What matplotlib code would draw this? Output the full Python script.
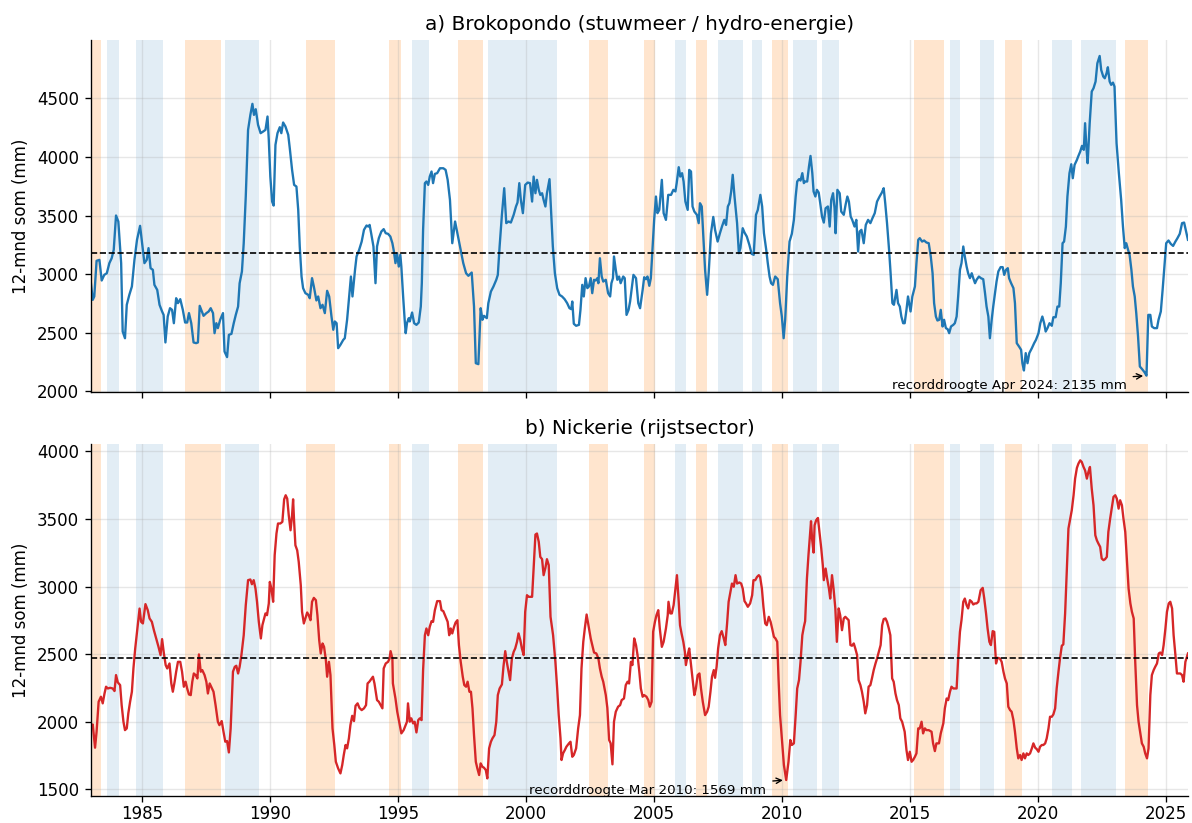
import matplotlib
matplotlib.use("Agg")
import matplotlib.pyplot as plt

# ---- ENSO-episodes (decimale jaren) ----
el_nino = [(1983.00, 1983.40), (1986.67, 1988.07), (1991.40, 1992.52), (1994.65, 1995.13),
           (1997.33, 1998.33), (2002.45, 2003.20), (2004.60, 2005.05), (2006.65, 2007.09),
           (2009.60, 2010.24), (2015.16, 2016.32), (2018.73, 2019.38), (2023.41, 2024.31)]
la_nina = [(1983.64, 1984.08), (1984.75, 1985.82), (1988.23, 1989.56), (1995.56, 1996.22),
           (1998.50, 2001.23), (2005.82, 2006.24), (2007.50, 2008.47), (2008.84, 2009.24),
           (2010.42, 2011.38), (2011.58, 2012.24), (2016.58, 2016.98), (2017.75, 2018.31),
           (2020.56, 2021.33), (2021.68, 2023.05)]

# ---- a) Brokopondo: 12-maands som (mm) ----
bro_t = [
    1983.00, 1983.07, 1983.13, 1983.22, 1983.33, 1983.42, 1983.52, 1983.62, 1983.72, 1983.81,
    1983.89, 1983.98, 1984.07, 1984.18, 1984.24, 1984.33, 1984.40, 1984.50, 1984.60, 1984.70,
    1984.80, 1984.92, 1985.00, 1985.09, 1985.18, 1985.25, 1985.33, 1985.42, 1985.48, 1985.59,
    1985.68, 1985.78, 1985.84, 1985.91, 1986.00, 1986.09, 1986.17, 1986.24, 1986.33, 1986.40,
    1986.49, 1986.59, 1986.68, 1986.76, 1986.83, 1986.92, 1987.01, 1987.11, 1987.18, 1987.25,
    1987.31, 1987.40, 1987.51, 1987.60, 1987.68, 1987.77, 1987.83, 1987.90, 1987.96, 1988.05,
    1988.16, 1988.22, 1988.32, 1988.39, 1988.49, 1988.58, 1988.66, 1988.75, 1988.81, 1988.90,
    1988.97, 1989.05, 1989.14, 1989.23, 1989.31, 1989.37, 1989.44, 1989.53, 1989.63, 1989.73,
    1989.82, 1989.90, 1989.95, 1990.01, 1990.08, 1990.14, 1990.21, 1990.29, 1990.38, 1990.44,
    1990.51, 1990.60, 1990.71, 1990.77, 1990.86, 1990.94, 1991.03, 1991.10, 1991.16, 1991.23,
    1991.29, 1991.38, 1991.49, 1991.55, 1991.64, 1991.71, 1991.81, 1991.88, 1991.97, 1992.05,
    1992.14, 1992.23, 1992.31, 1992.40, 1992.47, 1992.53, 1992.60, 1992.66, 1992.75, 1992.86,
    1992.92, 1993.01, 1993.09, 1993.16, 1993.22, 1993.32, 1993.38, 1993.48, 1993.58, 1993.67,
    1993.77, 1993.84, 1993.89, 1993.95, 1994.04, 1994.12, 1994.18, 1994.25, 1994.35, 1994.44,
    1994.52, 1994.61, 1994.70, 1994.78, 1994.84, 1994.90, 1994.96, 1995.03, 1995.09, 1995.13,
    1995.20, 1995.26, 1995.30, 1995.35, 1995.42, 1995.46, 1995.55, 1995.63, 1995.72, 1995.81,
    1995.89, 1995.93, 1995.98, 1996.05, 1996.11, 1996.18, 1996.24, 1996.31, 1996.37, 1996.44,
    1996.53, 1996.64, 1996.77, 1996.86, 1996.94, 1997.03, 1997.12, 1997.23, 1997.32, 1997.42,
    1997.55, 1997.66, 1997.75, 1997.88, 1997.97, 1998.04, 1998.14, 1998.23, 1998.30, 1998.36,
    1998.47, 1998.53, 1998.63, 1998.73, 1998.84, 1998.90, 1998.97, 1999.06, 1999.15, 1999.23,
    1999.32, 1999.41, 1999.52, 1999.61, 1999.67, 1999.74, 1999.80, 1999.88, 1999.97, 2000.07,
    2000.16, 2000.24, 2000.30, 2000.37, 2000.43, 2000.50, 2000.56, 2000.63, 2000.69, 2000.76,
    2000.82, 2000.92, 2000.98, 2001.05, 2001.13, 2001.22, 2001.31, 2001.41, 2001.51, 2001.61,
    2001.70, 2001.77, 2001.81, 2001.87, 2001.96, 2002.07, 2002.13, 2002.20, 2002.26, 2002.33,
    2002.40, 2002.46, 2002.53, 2002.59, 2002.66, 2002.72, 2002.79, 2002.83, 2002.89, 2002.96,
    2003.02, 2003.12, 2003.21, 2003.29, 2003.34, 2003.40, 2003.44, 2003.51, 2003.57, 2003.64,
    2003.70, 2003.80, 2003.86, 2003.93, 2004.01, 2004.07, 2004.20, 2004.30, 2004.39, 2004.46,
    2004.56, 2004.62, 2004.69, 2004.75, 2004.82, 2004.88, 2004.95, 2005.01, 2005.08, 2005.14,
    2005.21, 2005.31, 2005.38, 2005.47, 2005.56, 2005.67, 2005.76, 2005.84, 2005.89, 2005.97,
    2006.03, 2006.10, 2006.16, 2006.23, 2006.32, 2006.38, 2006.45, 2006.51, 2006.58, 2006.68,
    2006.75, 2006.80, 2006.87, 2006.95, 2007.00, 2007.08, 2007.14, 2007.23, 2007.32, 2007.39,
    2007.49, 2007.58, 2007.66, 2007.75, 2007.82, 2007.89, 2007.95, 2008.02, 2008.08, 2008.15,
    2008.25, 2008.32, 2008.38, 2008.47, 2008.54, 2008.63, 2008.73, 2008.82, 2008.90, 2008.99,
    2009.06, 2009.16, 2009.23, 2009.30, 2009.39, 2009.45, 2009.52, 2009.58, 2009.65, 2009.74,
    2009.84, 2009.93, 2010.00, 2010.07, 2010.13, 2010.21, 2010.30, 2010.39, 2010.47, 2010.54,
    2010.60, 2010.67, 2010.73, 2010.80, 2010.86, 2010.91, 2010.99, 2011.06, 2011.12, 2011.19,
    2011.24, 2011.31, 2011.37, 2011.44, 2011.50, 2011.57, 2011.64, 2011.71, 2011.80, 2011.87,
    2011.93, 2012.00, 2012.06, 2012.10, 2012.17, 2012.26, 2012.32, 2012.42, 2012.49, 2012.56,
    2012.62, 2012.69, 2012.75, 2012.84, 2012.91, 2012.98, 2013.04, 2013.11, 2013.20, 2013.28,
    2013.37, 2013.46, 2013.54, 2013.63, 2013.72, 2013.82, 2013.91, 2013.98, 2014.04, 2014.11,
    2014.19, 2014.25, 2014.32, 2014.38, 2014.48, 2014.54, 2014.61, 2014.67, 2014.74, 2014.80,
    2014.87, 2014.93, 2015.03, 2015.10, 2015.20, 2015.26, 2015.33, 2015.39, 2015.48, 2015.56,
    2015.65, 2015.74, 2015.82, 2015.89, 2015.95, 2016.02, 2016.08, 2016.15, 2016.21, 2016.28,
    2016.34, 2016.41, 2016.48, 2016.54, 2016.61, 2016.70, 2016.76, 2016.83, 2016.89, 2016.96,
    2017.02, 2017.09, 2017.15, 2017.22, 2017.28, 2017.35, 2017.42, 2017.48, 2017.55, 2017.61,
    2017.70, 2017.78, 2017.87, 2017.94, 2018.00, 2018.07, 2018.13, 2018.20, 2018.26, 2018.33,
    2018.39, 2018.46, 2018.55, 2018.63, 2018.69, 2018.76, 2018.83, 2018.88, 2018.96, 2019.05,
    2019.11, 2019.18, 2019.27, 2019.35, 2019.40, 2019.46, 2019.53, 2019.60, 2019.67, 2019.77,
    2019.86, 2019.93, 2020.03, 2020.10, 2020.18, 2020.25, 2020.31, 2020.38, 2020.46, 2020.55,
    2020.61, 2020.70, 2020.77, 2020.84, 2020.90, 2020.97, 2021.03, 2021.10, 2021.16, 2021.24,
    2021.31, 2021.37, 2021.44, 2021.53, 2021.58, 2021.66, 2021.73, 2021.80, 2021.85, 2021.90,
    2021.95, 2022.03, 2022.11, 2022.18, 2022.26, 2022.33, 2022.42, 2022.48, 2022.56, 2022.62,
    2022.69, 2022.74, 2022.81, 2022.87, 2022.94, 2023.00, 2023.08, 2023.17, 2023.26, 2023.33,
    2023.40, 2023.46, 2023.53, 2023.59, 2023.66, 2023.72, 2023.79, 2023.85, 2023.92, 2023.99,
    2024.08, 2024.17, 2024.25, 2024.32, 2024.40, 2024.46, 2024.55, 2024.66, 2024.72, 2024.81,
    2024.88, 2024.95, 2025.02, 2025.11, 2025.20, 2025.29, 2025.38, 2025.46, 2025.55, 2025.64,
    2025.72, 2025.87,
]
bro_mm = [
    2923, 2781, 2810, 3114, 3122, 2946, 2994, 3008, 3094, 3136,
    3207, 3500, 3449, 3094, 2511, 2454, 2739, 2824, 2895, 3122,
    3293, 3412, 3264, 3094, 3122, 3222, 3051, 3037, 2909, 2866,
    2739, 2682, 2653, 2418, 2639, 2710, 2696, 2582, 2795, 2753,
    2787, 2696, 2588, 2588, 2668, 2582, 2418, 2412, 2418, 2730,
    2696, 2645, 2668, 2682, 2710, 2668, 2497, 2582, 2540, 2611,
    2668, 2341, 2293, 2483, 2491, 2582, 2653, 2724, 2923, 3023,
    3264, 3662, 4230, 4358, 4452, 4358, 4406, 4273, 4202, 4216,
    4230, 4344, 4145, 3832, 3619, 3585, 4102, 4202, 4253, 4202,
    4293, 4259, 4188, 4074, 3889, 3761, 3747, 3548, 3236, 2980,
    2881, 2838, 2824, 2795, 2966, 2895, 2776, 2810, 2710, 2739,
    2668, 2858, 2810, 2639, 2526, 2597, 2582, 2369, 2398, 2440,
    2454, 2611, 2810, 2980, 2810, 3037, 3151, 3207, 3278, 3378,
    3415, 3406, 3420, 3349, 3236, 2923, 3236, 3307, 3364, 3384,
    3349, 3344, 3321, 3264, 3193, 3094, 3179, 3065, 3165, 3065,
    2810, 2611, 2497, 2582, 2625, 2597, 2673, 2582, 2568, 2588,
    2724, 2923, 3378, 3776, 3790, 3761, 3832, 3875, 3776, 3855,
    3861, 3903, 3903, 3889, 3804, 3633, 3264, 3449, 3349, 3236,
    3094, 3008, 2986, 3014, 2724, 2241, 2233, 2710, 2611, 2645,
    2625, 2753, 2852, 2895, 2952, 2994, 3236, 3506, 3733, 3435,
    3449, 3440, 3506, 3577, 3611, 3776, 3633, 3520, 3761, 3781,
    3776, 3619, 3832, 3690, 3804, 3719, 3676, 3690, 3633, 3577,
    3690, 3810, 3548, 3236, 3008, 2881, 2824, 2810, 2787, 2753,
    2710, 2702, 2767, 2577, 2560, 2568, 2696, 2909, 2810, 2966,
    2881, 2895, 2966, 2838, 2952, 2946, 2966, 2923, 3136, 2980,
    2937, 2952, 2838, 2810, 2923, 2966, 3151, 3037, 2952, 2980,
    2923, 2980, 2966, 2653, 2696, 2767, 2994, 2966, 2753, 2710,
    2866, 2974, 2957, 2980, 2901, 2966, 3236, 3463, 3662, 3520,
    3548, 3804, 3520, 3463, 3676, 3676, 3719, 3705, 3776, 3912,
    3832, 3861, 3790, 3619, 3548, 3889, 3875, 3577, 3534, 3506,
    3435, 3605, 3577, 3236, 3037, 2824, 3008, 3349, 3488, 3378,
    3278, 3349, 3406, 3463, 3420, 3577, 3605, 3705, 3847, 3662,
    3435, 3179, 3222, 3392, 3355, 3321, 3250, 3173, 3165, 3506,
    3548, 3676, 3577, 3349, 3207, 3094, 2980, 2923, 2909, 2980,
    2957, 2753, 2639, 2454, 2611, 2980, 3278, 3344, 3463, 3662,
    3790, 3810, 3798, 3861, 3776, 3790, 3790, 3918, 4008, 3861,
    3705, 3662, 3719, 3696, 3605, 3491, 3440, 3562, 3577, 3406,
    3633, 3690, 3562, 3349, 3719, 3690, 3534, 3506, 3591, 3662,
    3619, 3491, 3463, 3406, 3463, 3193, 3364, 3378, 3264, 3420,
    3463, 3435, 3477, 3520, 3619, 3662, 3696, 3733, 3605, 3435,
    3207, 3008, 2753, 2739, 2866, 2753, 2724, 2639, 2582, 2582,
    2696, 2810, 2682, 2810, 2895, 3094, 3293, 3307, 3278, 3287,
    3270, 3264, 3151, 3008, 2753, 2639, 2605, 2611, 2696, 2554,
    2611, 2540, 2531, 2497, 2554, 2568, 2582, 2639, 2810, 3037,
    3094, 3236, 3151, 3065, 3008, 2966, 3008, 2966, 2923, 2952,
    2980, 2966, 2957, 2838, 2724, 2639, 2454, 2611, 2724, 2838,
    2937, 3023, 3060, 3060, 2994, 3037, 3051, 2966, 2923, 2881,
    2753, 2412, 2383, 2355, 2241, 2179, 2327, 2241, 2327, 2369,
    2412, 2440, 2497, 2582, 2639, 2582, 2511, 2540, 2582, 2560,
    2633, 2633, 2724, 2724, 2923, 3264, 3278, 3406, 3662, 3861,
    3937, 3818, 3932, 3974, 4003, 4045, 4094, 4060, 4287, 4088,
    3946, 4287, 4557, 4585, 4642, 4798, 4860, 4741, 4685, 4670,
    4713, 4764, 4642, 4614, 4633, 4599, 4116, 3861, 3633, 3406,
    3222, 3264, 3207, 3165, 3037, 2895, 2810, 2668, 2469, 2213,
    2190, 2165, 2135, 2653, 2653, 2554, 2540, 2540, 2611, 2682,
    2866, 3065, 3264, 3287, 3258, 3241, 3278, 3307, 3344, 3435,
    3440, 3293,
]

# ---- b) Nickerie: 12-maands som (mm) ----
nic_t = [
    1983.00, 1983.07, 1983.16, 1983.22, 1983.30, 1983.39, 1983.46, 1983.53, 1983.59, 1983.66,
    1983.75, 1983.85, 1983.92, 1983.98, 1984.05, 1984.14, 1984.20, 1984.27, 1984.33, 1984.40,
    1984.46, 1984.53, 1984.60, 1984.66, 1984.73, 1984.80, 1984.90, 1984.96, 1985.03, 1985.13,
    1985.22, 1985.29, 1985.38, 1985.46, 1985.55, 1985.64, 1985.72, 1985.78, 1985.85, 1985.92,
    1985.98, 1986.07, 1986.14, 1986.20, 1986.27, 1986.33, 1986.40, 1986.49, 1986.56, 1986.63,
    1986.70, 1986.76, 1986.83, 1986.90, 1986.96, 1987.02, 1987.09, 1987.16, 1987.22, 1987.29,
    1987.35, 1987.44, 1987.51, 1987.57, 1987.64, 1987.70, 1987.79, 1987.87, 1987.96, 1988.02,
    1988.11, 1988.18, 1988.25, 1988.32, 1988.39, 1988.46, 1988.55, 1988.62, 1988.68, 1988.75,
    1988.81, 1988.88, 1988.97, 1989.05, 1989.14, 1989.23, 1989.29, 1989.36, 1989.43, 1989.49,
    1989.56, 1989.64, 1989.70, 1989.77, 1989.82, 1989.88, 1989.95, 1989.99, 1990.05, 1990.12,
    1990.18, 1990.25, 1990.31, 1990.40, 1990.48, 1990.55, 1990.61, 1990.67, 1990.73, 1990.80,
    1990.86, 1990.90, 1990.94, 1990.99, 1991.06, 1991.12, 1991.20, 1991.25, 1991.32, 1991.38,
    1991.45, 1991.51, 1991.58, 1991.64, 1991.71, 1991.79, 1991.85, 1991.92, 1991.98, 1992.05,
    1992.11, 1992.18, 1992.23, 1992.30, 1992.36, 1992.44, 1992.51, 1992.57, 1992.66, 1992.75,
    1992.82, 1992.88, 1992.95, 1993.01, 1993.08, 1993.14, 1993.21, 1993.28, 1993.34, 1993.42,
    1993.49, 1993.58, 1993.67, 1993.75, 1993.81, 1993.88, 1994.02, 1994.08, 1994.18, 1994.25,
    1994.32, 1994.39, 1994.44, 1994.52, 1994.61, 1994.67, 1994.71, 1994.78, 1994.80, 1994.90,
    1994.97, 1995.07, 1995.13, 1995.22, 1995.30, 1995.35, 1995.39, 1995.46, 1995.52, 1995.59,
    1995.65, 1995.72, 1995.79, 1995.85, 1995.92, 1995.98, 1996.05, 1996.11, 1996.18, 1996.24,
    1996.31, 1996.37, 1996.44, 1996.53, 1996.64, 1996.70, 1996.77, 1996.86, 1996.94, 1997.00,
    1997.06, 1997.12, 1997.19, 1997.25, 1997.32, 1997.38, 1997.45, 1997.53, 1997.59, 1997.66,
    1997.72, 1997.79, 1997.85, 1997.91, 1997.97, 1998.04, 1998.10, 1998.17, 1998.23, 1998.30,
    1998.36, 1998.43, 1998.49, 1998.56, 1998.63, 1998.69, 1998.77, 1998.84, 1998.90, 1998.97,
    1999.06, 1999.12, 1999.19, 1999.25, 1999.32, 1999.38, 1999.45, 1999.52, 1999.58, 1999.65,
    1999.71, 1999.78, 1999.84, 1999.91, 1999.97, 2000.04, 2000.10, 2000.17, 2000.24, 2000.30,
    2000.37, 2000.43, 2000.50, 2000.56, 2000.63, 2000.69, 2000.76, 2000.82, 2000.89, 2000.96,
    2001.06, 2001.15, 2001.22, 2001.28, 2001.35, 2001.39, 2001.45, 2001.52, 2001.58, 2001.68,
    2001.74, 2001.81, 2001.87, 2001.96, 2002.04, 2002.11, 2002.17, 2002.24, 2002.30, 2002.37,
    2002.43, 2002.53, 2002.59, 2002.66, 2002.75, 2002.83, 2002.89, 2002.96, 2003.02, 2003.12,
    2003.18, 2003.25, 2003.31, 2003.38, 2003.44, 2003.51, 2003.60, 2003.68, 2003.74, 2003.83,
    2003.90, 2003.97, 2004.03, 2004.10, 2004.16, 2004.23, 2004.30, 2004.36, 2004.43, 2004.49,
    2004.56, 2004.62, 2004.71, 2004.78, 2004.84, 2004.91, 2004.97, 2005.04, 2005.10, 2005.17,
    2005.23, 2005.31, 2005.38, 2005.47, 2005.54, 2005.57, 2005.64, 2005.70, 2005.77, 2005.84,
    2005.90, 2005.97, 2006.02, 2006.08, 2006.15, 2006.21, 2006.25, 2006.32, 2006.38, 2006.45,
    2006.51, 2006.58, 2006.64, 2006.71, 2006.78, 2006.84, 2006.91, 2007.00, 2007.08, 2007.14,
    2007.21, 2007.27, 2007.34, 2007.39, 2007.45, 2007.51, 2007.58, 2007.65, 2007.73, 2007.79,
    2007.86, 2007.92, 2007.99, 2008.05, 2008.12, 2008.19, 2008.25, 2008.34, 2008.41, 2008.47,
    2008.54, 2008.60, 2008.67, 2008.76, 2008.84, 2008.89, 2008.96, 2009.03, 2009.10, 2009.15,
    2009.22, 2009.28, 2009.35, 2009.41, 2009.49, 2009.56, 2009.62, 2009.69, 2009.75, 2009.82,
    2009.87, 2009.93, 2010.00, 2010.08, 2010.17, 2010.26, 2010.33, 2010.39, 2010.47, 2010.54,
    2010.60, 2010.67, 2010.73, 2010.80, 2010.86, 2010.91, 2010.98, 2011.04, 2011.10, 2011.14,
    2011.18, 2011.24, 2011.28, 2011.34, 2011.41, 2011.47, 2011.54, 2011.60, 2011.64, 2011.71,
    2011.77, 2011.84, 2011.89, 2011.96, 2012.02, 2012.09, 2012.15, 2012.22, 2012.28, 2012.35,
    2012.42, 2012.48, 2012.61, 2012.68, 2012.74, 2012.81, 2012.87, 2012.94, 2013.00, 2013.07,
    2013.13, 2013.20, 2013.26, 2013.33, 2013.39, 2013.46, 2013.52, 2013.59, 2013.66, 2013.72,
    2013.79, 2013.86, 2013.92, 2013.98, 2014.05, 2014.11, 2014.18, 2014.24, 2014.31, 2014.37,
    2014.44, 2014.50, 2014.57, 2014.63, 2014.70, 2014.80, 2014.87, 2014.93, 2015.00, 2015.07,
    2015.13, 2015.20, 2015.26, 2015.33, 2015.39, 2015.46, 2015.52, 2015.59, 2015.65, 2015.74,
    2015.85, 2015.91, 2015.98, 2016.04, 2016.14, 2016.21, 2016.31, 2016.37, 2016.44, 2016.50,
    2016.57, 2016.63, 2016.70, 2016.76, 2016.83, 2016.89, 2016.96, 2017.02, 2017.09, 2017.15,
    2017.22, 2017.28, 2017.35, 2017.42, 2017.48, 2017.55, 2017.61, 2017.68, 2017.77, 2017.85,
    2017.91, 2017.98, 2018.04, 2018.11, 2018.17, 2018.24, 2018.30, 2018.37, 2018.43, 2018.52,
    2018.59, 2018.66, 2018.72, 2018.79, 2018.85, 2018.92, 2018.98, 2019.05, 2019.11, 2019.18,
    2019.24, 2019.31, 2019.37, 2019.44, 2019.50, 2019.57, 2019.63, 2019.70, 2019.77, 2019.83,
    2019.90, 2019.96, 2020.03, 2020.09, 2020.16, 2020.22, 2020.29, 2020.35, 2020.42, 2020.48,
    2020.55, 2020.61, 2020.68, 2020.74, 2020.81, 2020.87, 2020.94, 2021.00, 2021.07, 2021.14,
    2021.20, 2021.27, 2021.33, 2021.40, 2021.46, 2021.53, 2021.59, 2021.66, 2021.72, 2021.79,
    2021.85, 2021.92, 2021.98, 2022.04, 2022.11, 2022.18, 2022.25, 2022.31, 2022.37, 2022.44,
    2022.50, 2022.57, 2022.63, 2022.70, 2022.76, 2022.83, 2022.89, 2022.96, 2023.03, 2023.09,
    2023.16, 2023.22, 2023.29, 2023.35, 2023.42, 2023.49, 2023.55, 2023.62, 2023.68, 2023.75,
    2023.81, 2023.88, 2023.94, 2024.01, 2024.07, 2024.14, 2024.20, 2024.27, 2024.33, 2024.40,
    2024.46, 2024.53, 2024.59, 2024.66, 2024.73, 2024.79, 2024.86, 2024.92, 2024.99, 2025.05,
    2025.12, 2025.18, 2025.25, 2025.31, 2025.38, 2025.44, 2025.50, 2025.57, 2025.64, 2025.70,
    2025.77, 2025.87,
]
nic_mm = [
    1951, 1980, 1808, 1926, 2148, 2185, 2136, 2209, 2259, 2246,
    2251, 2246, 2227, 2345, 2291, 2271, 2123, 2000, 1938, 1951,
    2062, 2148, 2222, 2394, 2542, 2665, 2837, 2739, 2727, 2870,
    2825, 2764, 2739, 2677, 2616, 2554, 2493, 2611, 2505, 2419,
    2394, 2431, 2283, 2222, 2296, 2370, 2443, 2443, 2370, 2259,
    2296, 2246, 2202, 2197, 2296, 2357, 2345, 2320, 2498, 2370,
    2382, 2345, 2296, 2209, 2283, 2259, 2222, 2123, 2000, 1975,
    2005, 1926, 1852, 1857, 1773, 1951, 2370, 2406, 2414, 2357,
    2406, 2493, 2640, 2862, 3047, 3052, 3017, 3047, 2985, 2887,
    2739, 2616, 2714, 2764, 2801, 2788, 2874, 3034, 2985, 2887,
    3232, 3392, 3466, 3466, 3478, 3645, 3675, 3650, 3527, 3416,
    3527, 3645, 3478, 3305, 3268, 3182, 3010, 2813, 2727, 2764,
    2808, 2788, 2751, 2887, 2916, 2899, 2788, 2603, 2505, 2579,
    2554, 2456, 2333, 2443, 2345, 1951, 1828, 1704, 1655, 1618,
    1680, 1754, 1828, 1803, 1877, 1975, 2044, 2005, 2118, 2136,
    2103, 2086, 2099, 2123, 2283, 2296, 2333, 2283, 2160, 2148,
    2123, 2099, 2394, 2431, 2443, 2468, 2522, 2468, 2283, 2172,
    2074, 1975, 1914, 1938, 1975, 2000, 2136, 2000, 2025, 1988,
    2000, 1921, 2012, 2025, 2012, 2382, 2640, 2690, 2640, 2702,
    2744, 2739, 2825, 2892, 2892, 2825, 2818, 2776, 2739, 2640,
    2690, 2653, 2702, 2734, 2751, 2567, 2443, 2333, 2271, 2259,
    2296, 2222, 2222, 2099, 1901, 1704, 1655, 1606, 1692, 1667,
    1660, 1643, 1581, 1803, 1852, 1877, 1901, 2000, 2197, 2246,
    2276, 2406, 2522, 2443, 2370, 2308, 2468, 2517, 2542, 2591,
    2653, 2603, 2542, 2493, 2813, 2936, 2924, 2924, 2924, 3133,
    3384, 3392, 3330, 3219, 3202, 3084, 3138, 3202, 3158, 2776,
    2640, 2443, 2246, 2049, 1877, 1717, 1766, 1791, 1815, 1840,
    1852, 1741, 1754, 1803, 1951, 2049, 2394, 2591, 2690, 2793,
    2727, 2616, 2567, 2512, 2505, 2468, 2394, 2333, 2296, 2197,
    2103, 1865, 1840, 1685, 2000, 2074, 2111, 2123, 2160, 2172,
    2271, 2296, 2283, 2443, 2419, 2616, 2567, 2493, 2370, 2246,
    2185, 2197, 2185, 2160, 2111, 2148, 2665, 2739, 2788, 2825,
    2690, 2554, 2591, 2690, 2788, 2887, 2801, 2801, 2862, 2985,
    3084, 2887, 2714, 2653, 2591, 2517, 2419, 2493, 2542, 2419,
    2320, 2197, 2246, 2345, 2357, 2246, 2148, 2049, 2074, 2111,
    2222, 2333, 2382, 2325, 2406, 2542, 2640, 2670, 2616, 2567,
    2727, 2887, 2961, 3022, 2998, 3084, 3022, 3030, 3022, 2985,
    2892, 2875, 2850, 2875, 2936, 3047, 3047, 3071, 3084, 3071,
    2985, 2850, 2727, 2714, 2776, 2739, 2690, 2628, 2616, 2591,
    2320, 2049, 1877, 1680, 1569, 1704, 1865, 1828, 1840, 2049,
    2246, 2308, 2443, 2640, 2702, 2744, 3059, 3232, 3379, 3483,
    3355, 3251, 3453, 3490, 3507, 3404, 3281, 3158, 3047, 3133,
    3059, 2985, 2911, 3084, 2985, 2838, 2591, 2838, 2788, 2677,
    2764, 2776, 2751, 2567, 2562, 2579, 2542, 2493, 2308, 2271,
    2222, 2148, 2062, 2123, 2259, 2271, 2320, 2382, 2431, 2468,
    2517, 2567, 2714, 2759, 2764, 2739, 2690, 2640, 2320, 2296,
    2209, 2160, 2123, 2025, 2000, 1926, 1791, 1717, 1778, 1704,
    1717, 1741, 1766, 1951, 1951, 2000, 1914, 1951, 1938, 1938,
    1926, 1840, 1783, 1840, 1840, 1914, 1988, 2099, 2172, 2160,
    2222, 2259, 2246, 2246, 2246, 2468, 2665, 2751, 2887, 2911,
    2862, 2838, 2899, 2887, 2867, 2875, 2875, 2887, 2973, 2990,
    2911, 2801, 2690, 2591, 2567, 2670, 2665, 2431, 2473, 2468,
    2443, 2370, 2320, 2283, 2111, 2086, 2074, 2012, 1926, 1803,
    1729, 1754, 1717, 1766, 1729, 1766, 1754, 1766, 1803, 1840,
    1808, 1798, 1778, 1815, 1828, 1828, 1840, 1877, 1951, 2037,
    2037, 2054, 2099, 2246, 2370, 2468, 2562, 2572, 2801, 3133,
    3429, 3502, 3564, 3675, 3798, 3877, 3909, 3933, 3921, 3884,
    3859, 3798, 3847, 3884, 3724, 3601, 3379, 3342, 3318, 3293,
    3207, 3195, 3202, 3219, 3404, 3502, 3576, 3663, 3675, 3650,
    3576, 3638, 3601, 3502, 3404, 3182, 2985, 2875, 2813, 2764,
    2443, 2123, 2000, 1914, 1840, 1815, 1766, 1729, 1803, 2197,
    2345, 2382, 2406, 2431, 2505, 2512, 2493, 2567, 2690, 2813,
    2875, 2887, 2838, 2640, 2493, 2357, 2357, 2357, 2345, 2296,
    2443, 2505,
]

bro_mean = 3178
nic_mean = 2469
bro_record = ("Apr 2024", 2024.25, 2135)
nic_record = ("Mar 2010", 2010.17, 1569)

year_ticks = [1985, 1990, 1995, 2000, 2005, 2010, 2015, 2020, 2025]

panels = [
    ("a) Brokopondo (stuwmeer / hydro-energie)", bro_t, bro_mm, bro_mean, bro_record, "tab:blue"),
    ("b) Nickerie (rijstsector)", nic_t, nic_mm, nic_mean, nic_record, "tab:red"),
]

fig, axes = plt.subplots(2, 1, figsize=(1192 / 120, 823 / 120), dpi=120, sharex=True)
fig.subplots_adjust(left=0.0763, right=0.9966, top=0.9514, bottom=0.0328, hspace=0.15)

for ax, (title, t, mm, mean, record, color) in zip(axes, panels):
    # ENSO-achtergrond
    for a, b in el_nino:
        ax.axvspan(a, b, color="tab:orange", alpha=0.2, lw=0)
    for a, b in la_nina:
        ax.axvspan(a, b, color="tab:blue", alpha=0.13, lw=0)

    ax.plot(t, mm, color=color, lw=1.4)
    ax.axhline(mean, color="black", ls="--", lw=1.0)

    label, rx, rv = record
    ax.annotate(f"recorddroogte {label}: {rv} mm", xy=(rx, rv),
                xytext=(-12, -6), textcoords="offset points",
                ha="right", va="center", fontsize=8,
                arrowprops=dict(arrowstyle="->", color="black", lw=0.8))

    ax.set_title(title, fontsize=12)
    ax.set_ylabel("12-mnd som (mm)", fontsize=10)
    ax.grid(True, alpha=0.3)
    ax.spines["top"].set_visible(False)
    ax.spines["right"].set_visible(False)
    ax.tick_params(labelsize=10)

axes[1].set_xlim(bro_t[0], bro_t[-1])
axes[1].set_xticks(year_ticks)
axes[1].set_xticklabels([str(y) for y in year_ticks])
axes[1].tick_params(axis="x", pad=2)

fig.savefig("out.png", dpi=120)
